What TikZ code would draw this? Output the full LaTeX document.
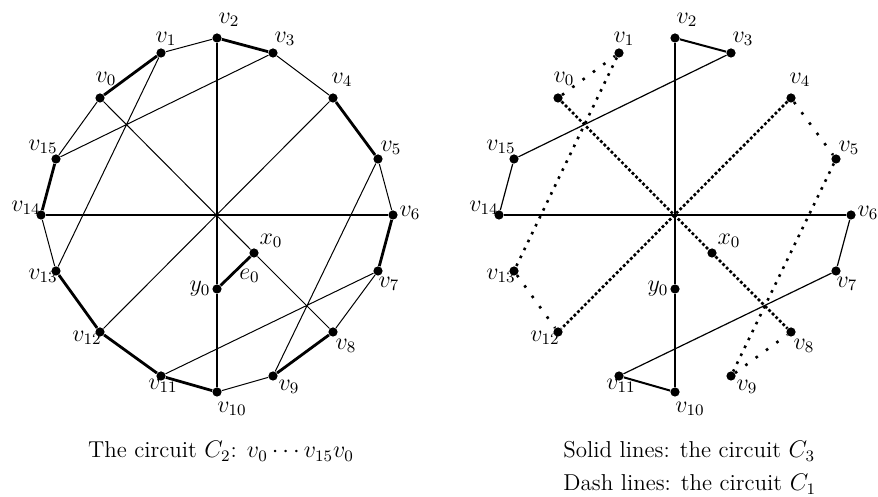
\documentclass[tikz,border=0pt]{standalone}
\usepackage{tikz}
\usetikzlibrary{positioning}
\tikzset{
  vtx/.style={circle,fill=black,inner sep=0pt,minimum size=4.6pt},
  lbl/.style={font=\fontsize{12}{14}\selectfont,inner sep=0pt},
  capt/.style={font=\fontsize{11.5}{14}\selectfont,inner sep=0pt},
  cedge/.style={line width=0.5pt,black},
  medge/.style={line width=1.4pt,black},
  axedge/.style={line width=1pt,black},
  c3edge/.style={line width=0.6pt,black},
  dotdense/.style={line width=1.3pt,dash pattern=on 1.4pt off 1.1pt},
  dotmid/.style={line width=1.3pt,dash pattern=on 1.3pt off 3.1pt},
  dotloose/.style={line width=1.3pt,dash pattern=on 1.3pt off 5.1pt},
}

\begin{document}
\begin{tikzpicture}[x=0.5pt,y=0.5pt]
  \useasboundingbox (0,0) rectangle (878,497);
  % the two copies of the 16 vertices, a = left, b = right
  \foreach \p/\cx in {a/217,b/675}{
    \foreach \i/\px/\py/\lx/\ly in {0/-117/117/6/19, 1/-56/162/5/14, 2/0/177/12/18,
        3/56/162/12/14, 4/116/117/9/18, 5/161/56/13/11, 6/176/0/17/2,
        7/161/-56/11/-13, 8/116/-117/13/-14, 9/56/-161/16/-11, 10/0/-177/15/-17,
        11/-56/-161/2/-10, 12/-117/-117/-13/-6, 13/-161/-56/-13/-5,
        14/-176/0/-15/7, 15/-161/56/-13/12}{
      \node[vtx,label={[lbl,shift={(\lx,\ly)}]center:$v_{\i}$}] (\p\i) at (\cx+\px,282+\py) {};
    }
    \node[vtx,label={[lbl,shift={(17,12)}]center:$x_0$}] (\p x) at (\cx+37,244) {};
    \node[vtx,label={[lbl,shift={(-17,0)}]center:$y_0$}] (\p y) at (\cx,208) {};
  }

  % left: the circuit C2
  \draw[cedge] (a1) -- (a2) (a3) -- (a4) (a5) -- (a6) (a7) -- (a8)
    (a9) -- (a10) (a13) -- (a14) (a15) -- (a0);
  \draw[medge] (a0) -- (a1) (a2) -- (a3) (a4) -- (a5) (a6) -- (a7) (a8) -- (a9)
    (a10) -- (a11) (a11) -- (a12) (a12) -- (a13) (a14) -- (a15);
  \draw[axedge] (a2) -- (ay) -- (a10);
  \draw[axedge] (a14) -- (a6);
  \draw[cedge] (a0) -- (ax) -- (a8);
  \draw[cedge] (a4) -- (a12);
  \draw[cedge] (a1) -- (a13) (a3) -- (a15) (a5) -- (a9) (a7) -- (a11);
  \draw[medge] (ay) -- (ax) node[lbl,midway,shift={(14,-5)}] (e0) {$e_0$};

  % right: C3 solid, C1 dotted
  \draw[c3edge] (b3) -- (b15) -- (b14) (b6) -- (b7) -- (b11);
  \draw[axedge] (b2) -- (b3) (b11) -- (b10);
  \draw[axedge] (b14) -- (b6) (b10) -- (by) -- (b2);
  \draw[dotdense] (b0) -- (bx) -- (b8);
  \draw[dotdense] (b4) -- (b12);
  \draw[dotmid] (b1) -- (b13) (b5) -- (b9);
  \draw[dotloose] (b0) -- (b1) (b13) -- (b12) (b4) -- (b5) (b9) -- (b8);

  % captions
  \node[capt,anchor=base] (capL) at (221,39) {The circuit $C_2$: $v_0\cdots v_{15}v_0$};
  \node[capt,anchor=base west] (capR1) at (563,39) {Solid lines: the circuit $C_3$};
  \node[capt,anchor=base west] (capR2) at (563,6) {Dash lines: the circuit $C_1$};
\end{tikzpicture}
\end{document}
